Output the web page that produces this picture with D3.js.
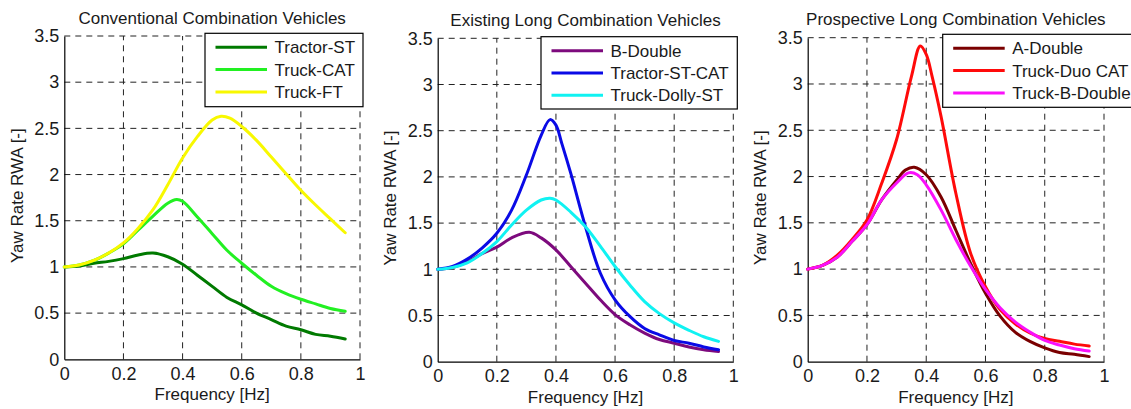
<!DOCTYPE html>
<html>
<head>
<meta charset="utf-8">
<script src="https://cdn.jsdelivr.net/npm/d3@7"></script>
<style>
  html, body { margin: 0; padding: 0; background: #fff; overflow: hidden; }
  svg { display: block; font-family: "Liberation Sans", Arial, sans-serif; }
</style>
</head>
<body>
<svg id="chart" width="1131" height="409"></svg>
<script>
// 三个子图: 偏航角速度放大 RWA 随频率变化, 数值目测自原图
const xTicks = [0, 0.2, 0.4, 0.6, 0.8, 1];
const yTicks = [0, 0.5, 1, 1.5, 2, 2.5, 3, 3.5];
const titles = ["Conventional Combination Vehicles", "Existing Long Combination Vehicles", "Prospective Long Combination Vehicles"];

// panel 1
const tractorST = [[0,1.0],[0.05,1.01],[0.1,1.04],[0.15,1.06],[0.2,1.09],[0.25,1.13],[0.3,1.15],[0.35,1.11],[0.4,1.03],[0.45,0.91],[0.5,0.79],[0.55,0.67],[0.6,0.59],[0.65,0.5],[0.7,0.43],[0.75,0.36],[0.8,0.32],[0.85,0.27],[0.9,0.25],[0.95,0.22]];
const truckCAT = [[0,1.0],[0.05,1.02],[0.1,1.07],[0.15,1.15],[0.2,1.25],[0.25,1.4],[0.3,1.55],[0.35,1.69],[0.38,1.73],[0.4,1.71],[0.45,1.54],[0.5,1.36],[0.55,1.18],[0.6,1.04],[0.65,0.91],[0.7,0.79],[0.75,0.71],[0.8,0.65],[0.85,0.6],[0.9,0.55],[0.95,0.52]];
const truckFT = [[0,1.0],[0.05,1.02],[0.1,1.07],[0.15,1.15],[0.2,1.26],[0.25,1.42],[0.3,1.62],[0.35,1.89],[0.4,2.18],[0.45,2.41],[0.5,2.59],[0.53,2.63],[0.56,2.61],[0.6,2.52],[0.65,2.37],[0.7,2.19],[0.75,2.01],[0.8,1.83],[0.85,1.67],[0.9,1.52],[0.95,1.37]];

// panel 2
const bDouble = [[0,1.0],[0.05,1.02],[0.1,1.08],[0.15,1.17],[0.2,1.24],[0.25,1.34],[0.31,1.4],[0.35,1.34],[0.4,1.21],[0.45,1.03],[0.5,0.85],[0.55,0.67],[0.6,0.51],[0.65,0.4],[0.7,0.31],[0.75,0.24],[0.8,0.2],[0.85,0.16],[0.9,0.13],[0.95,0.11]];
const tractorSTCAT = [[0,1.0],[0.05,1.03],[0.1,1.11],[0.15,1.23],[0.2,1.39],[0.25,1.64],[0.3,2.02],[0.35,2.45],[0.38,2.62],[0.4,2.56],[0.42,2.36],[0.45,2.04],[0.5,1.46],[0.55,0.96],[0.6,0.67],[0.65,0.49],[0.7,0.36],[0.75,0.29],[0.8,0.23],[0.85,0.2],[0.9,0.16],[0.95,0.13]];
const truckDollyST = [[0,1.0],[0.05,1.02],[0.1,1.07],[0.15,1.17],[0.2,1.3],[0.25,1.48],[0.3,1.64],[0.35,1.75],[0.38,1.77],[0.4,1.75],[0.45,1.62],[0.5,1.46],[0.55,1.25],[0.6,1.03],[0.65,0.83],[0.7,0.65],[0.75,0.52],[0.8,0.42],[0.85,0.34],[0.9,0.27],[0.95,0.22]];

// panel 3
const aDouble = [[0,1.0],[0.05,1.04],[0.1,1.13],[0.15,1.3],[0.2,1.48],[0.25,1.75],[0.3,1.96],[0.33,2.07],[0.36,2.1],[0.4,2.02],[0.45,1.78],[0.5,1.42],[0.55,1.06],[0.6,0.74],[0.65,0.49],[0.7,0.32],[0.75,0.22],[0.8,0.15],[0.85,0.1],[0.9,0.08],[0.95,0.055]];
const truckDuoCAT = [[0,1.0],[0.05,1.04],[0.1,1.15],[0.15,1.32],[0.2,1.53],[0.25,1.93],[0.3,2.4],[0.35,3.08],[0.38,3.41],[0.4,3.32],[0.42,3.08],[0.45,2.65],[0.5,1.82],[0.55,1.17],[0.6,0.81],[0.65,0.56],[0.7,0.41],[0.75,0.31],[0.8,0.25],[0.85,0.22],[0.9,0.19],[0.95,0.17]];
const truckBDouble = [[0,1.0],[0.05,1.04],[0.1,1.13],[0.15,1.3],[0.2,1.48],[0.25,1.75],[0.3,1.93],[0.34,2.04],[0.37,2.02],[0.4,1.91],[0.45,1.64],[0.5,1.32],[0.55,1.03],[0.6,0.78],[0.65,0.58],[0.7,0.43],[0.75,0.32],[0.8,0.23],[0.85,0.18],[0.9,0.14],[0.95,0.115]];

const seriesNames = [
  ["Tractor-ST", "Truck-CAT", "Truck-FT"],
  ["B-Double", "Tractor-ST-CAT", "Truck-Dolly-ST"],
  ["A-Double", "Truck-Duo CAT", "Truck-B-Double"]
];
const seriesData = [
  [tractorST, truckCAT, truckFT],
  [bDouble, tractorSTCAT, truckDollyST],
  [aDouble, truckDuoCAT, truckBDouble]
];
const seriesColors = [
  ["#007a00", "#22f022", "#f8f800"],
  ["#7d0a7d", "#0a0ae6", "#10f2f2"],
  ["#7a0000", "#ff0a0a", "#fa10fa"]
];

// 版面 (像素, 对齐原图)
const panels = [
  { l: 64.3, r: 360, t: 36, b: 359.3, titleY: 24, ylabX: 23, legX: 205, legY: 33.3, legW: 158, legH: 73.4 },
  { l: 437.7, r: 733.3, t: 38.3, b: 361.7, titleY: 26.3, ylabX: 396, legX: 541, legY: 36.7, legW: 196.3, legH: 72.3 },
  { l: 807.7, r: 1104, t: 37.7, b: 361.7, titleY: 25, ylabX: 766, legX: 942.7, legY: 34.3, legW: 200, legH: 73 }
];

const svg = d3.select("#chart");
const ink = "#1a1a1a";

panels.forEach((p, k) => {
  const x = d3.scaleLinear().domain([0, 1]).range([p.l, p.r]);
  const y = d3.scaleLinear().domain([0, 3.5]).range([p.b, p.t]);
  const g = svg.append("g");

  // 网格 (虚线), 包括上沿与右沿
  g.append("g").selectAll("line").data(xTicks.filter(d => d > 0)).join("line")
    .attr("x1", d => x(d)).attr("x2", d => x(d)).attr("y1", p.b).attr("y2", p.t)
    .attr("stroke", "#222").attr("stroke-width", 1).attr("stroke-dasharray", "6,5");
  g.append("g").selectAll("line").data(yTicks.filter(d => d > 0)).join("line")
    .attr("y1", d => y(d)).attr("y2", d => y(d)).attr("x1", p.l).attr("x2", p.r)
    .attr("stroke", "#222").attr("stroke-width", 1).attr("stroke-dasharray", "6,5");

  // 坐标轴
  const ax = g.append("g").attr("transform", `translate(0,${p.b})`)
    .call(d3.axisBottom(x).tickValues(xTicks).tickSize(0).tickPadding(8).tickFormat(d3.format("~g")));
  const ay = g.append("g").attr("transform", `translate(${p.l},0)`)
    .call(d3.axisLeft(y).tickValues(yTicks).tickSize(0).tickPadding(5).tickFormat(d3.format("~g")));
  [ax, ay].forEach(a => {
    a.select(".domain").attr("stroke", "#000").attr("stroke-width", 1.2);
    a.selectAll("text").attr("font-size", 18).attr("fill", ink).attr("font-family", null);
  });
  ax.selectAll("text").attr("dy", "0.71em");

  // 曲线
  const line = d3.line().x(d => x(d[0])).y(d => y(d[1])).curve(d3.curveCatmullRom.alpha(0.5));
  seriesData[k].forEach((s, i) => {
    g.append("path").datum(s).attr("d", line).attr("fill", "none")
      .attr("stroke", seriesColors[k][i]).attr("stroke-width", 3)
      .attr("stroke-linejoin", "round").attr("stroke-linecap", "round");
  });

  // 标题与轴标签
  const cx = (p.l + p.r) / 2;
  g.append("text").attr("x", cx).attr("y", p.titleY).attr("text-anchor", "middle")
    .attr("font-size", 17).attr("fill", ink).text(titles[k]);
  g.append("text").attr("x", cx).attr("y", p.b + 41).attr("text-anchor", "middle")
    .attr("font-size", 17).attr("fill", ink).text("Frequency [Hz]");
  g.append("text").attr("transform", `translate(${p.ylabX},${(p.t + p.b) / 2 - 2}) rotate(-90)`)
    .attr("text-anchor", "middle").attr("font-size", 17).attr("fill", ink).text("Yaw Rate RWA [-]");

  // 图例
  const lg = g.append("g").attr("transform", `translate(${p.legX},${p.legY})`);
  lg.append("rect").attr("width", p.legW).attr("height", p.legH)
    .attr("fill", "#fff").attr("stroke", "#000").attr("stroke-width", 1.2);
  seriesNames[k].forEach((n, i) => {
    const ry = 14 + i * 22.3;
    lg.append("line").attr("x1", 10.5).attr("x2", 62).attr("y1", ry).attr("y2", ry)
      .attr("stroke", seriesColors[k][i]).attr("stroke-width", 3);
    lg.append("text").attr("x", 69.5).attr("y", ry).attr("dy", "0.35em")
      .attr("font-size", 17).attr("fill", ink).text(n);
  });
});
</script>
</body>
</html>
